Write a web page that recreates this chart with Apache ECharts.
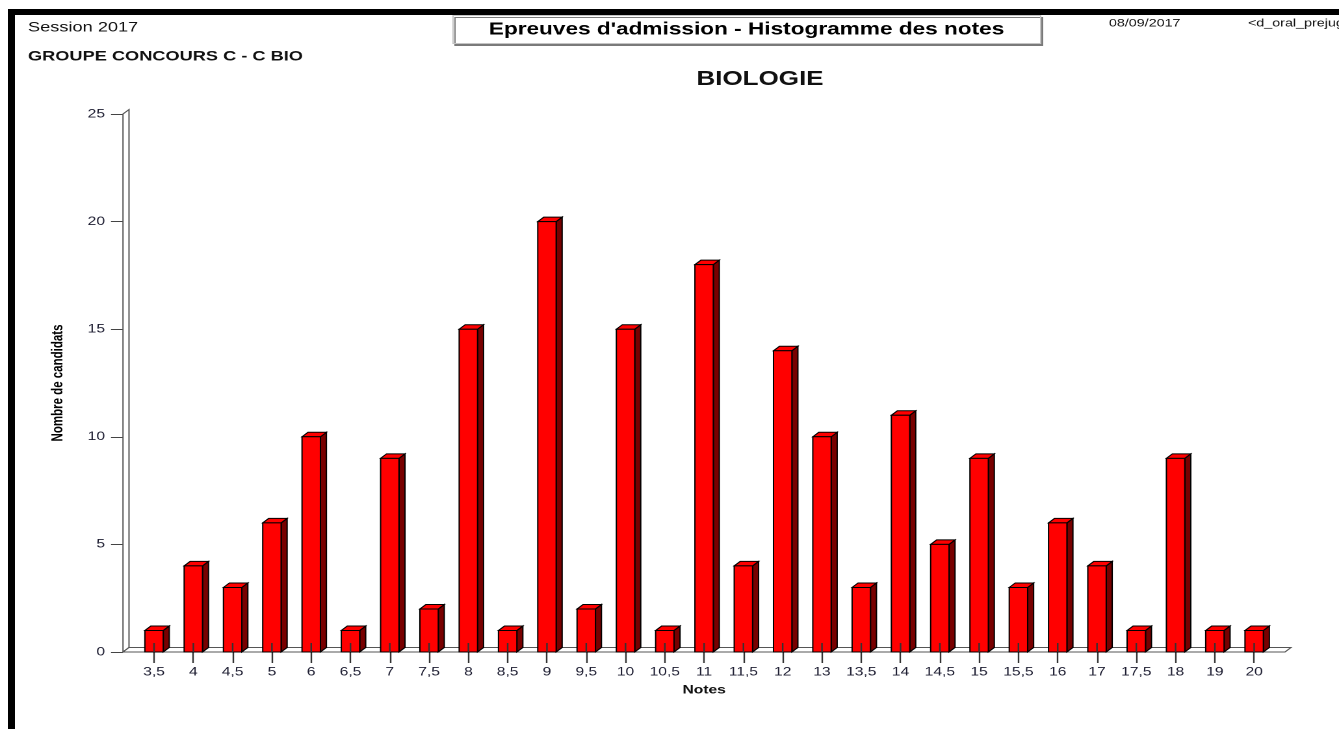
<!DOCTYPE html>
<html>
<head>
<meta charset="utf-8">
<title>Epreuves d'admission - Histogramme des notes</title>
<script src="https://cdn.jsdelivr.net/npm/echarts@6/dist/echarts.min.js"></script>
<style>
  html, body { margin: 0; padding: 0; background: #fff; overflow: hidden; }
  #frame {
    position: absolute; left: 8px; top: 9px; width: 1331px; height: 720px;
    border-left: 7px solid #000; border-top: 6px solid #000; box-sizing: border-box;
  }
  /* the report is laid out on a narrower page and stretched horizontally */
  #chart {
    position: absolute; left: 0; top: 0; width: 1030px; height: 729px;
    transform: scaleX(1.3); transform-origin: 0 0;
  }
</style>
</head>
<body>
<div id="frame"></div>
<div id="chart"></div>
<script>
// Notes (grades) and number of candidates per grade
const notes = ['3,5','4','4,5','5','6','6,5','7','7,5','8','8,5','9','9,5','10','10,5','11',
               '11,5','12','13','13,5','14','14,5','15','15,5','16','17','17,5','18','19','20'];
const candidats = [1,4,3,6,10,1,9,2,15,1,20,2,15,1,18,4,14,10,3,11,5,9,3,6,4,1,9,1,1];
const yTicks = [0, 5, 10, 15, 20, 25];

const Y_MIN = yTicks[0];
const Y_MAX = yTicks[yTicks.length - 1];
const Y_STEP = yTicks[1] - yTicks[0];

const SX = 1.3;            // horizontal stretch of the page
const DEPTH_X = 6 / SX;    // 3D depth offset
const DEPTH_Y = 4.5;
const BAR_W = 18.4 / SX;
const FONT = "'Liberation Sans', Arial, Helvetica, sans-serif";

const chart = echarts.init(document.getElementById('chart'), null, { renderer: 'canvas', devicePixelRatio: 2 });

// axis wall on the left and the floor along the x axis
function renderFrame(params, api) {
  const o = api.coord([0, Y_MIN]);
  const r = api.coord([1, Y_MIN]);
  const t = api.coord([0, Y_MAX]);
  const st = { fill: '#fff', stroke: '#555', lineWidth: 1 };
  return {
    type: 'group',
    children: [
      { type: 'polygon', shape: { points: [
          [o[0], o[1]], [o[0], t[1]], [o[0] + DEPTH_X, t[1] - DEPTH_Y], [o[0] + DEPTH_X, o[1] - DEPTH_Y]
        ] }, style: st },
      { type: 'polygon', shape: { points: [
          [o[0], o[1]], [r[0], r[1]], [r[0] + DEPTH_X, r[1] - DEPTH_Y], [o[0] + DEPTH_X, o[1] - DEPTH_Y]
        ] }, style: st }
    ]
  };
}

// one 3D bar: front face, right side, top, and the inner part of the tick
function renderBar(params, api) {
  const i = api.value(0);
  const v = api.value(1);
  const base = api.coord([i, 0]);
  const top = api.coord([i, v]);
  const cx = base[0], y0 = base[1], y1 = top[1];
  const l = cx - BAR_W / 2, rr = cx + BAR_W / 2;
  const edge = { stroke: '#000', lineWidth: 1 };
  return {
    type: 'group',
    children: [
      { type: 'polygon', shape: { points: [[rr, y1], [rr + DEPTH_X, y1 - DEPTH_Y], [rr + DEPTH_X, y0 - DEPTH_Y], [rr, y0]] },
        style: Object.assign({ fill: '#780000' }, edge) },
      { type: 'polygon', shape: { points: [[l, y1], [l + DEPTH_X, y1 - DEPTH_Y], [rr + DEPTH_X, y1 - DEPTH_Y], [rr, y1]] },
        style: Object.assign({ fill: '#ff0000' }, edge) },
      { type: 'rect', shape: { x: l, y: y1, width: BAR_W, height: y0 - y1 },
        style: Object.assign({ fill: '#ff0000' }, edge) },
      { type: 'line', shape: { x1: cx, y1: y0 - 9, x2: cx, y2: y0 },
        style: { stroke: '#333', lineWidth: 1.2 } }
    ]
  };
}

const option = {
  backgroundColor: 'transparent',
  animation: false,
  title: [
    { text: 'Session 2017', left: 21.5, top: 20.5, padding: 0,
      textStyle: { fontFamily: FONT, fontSize: 14, fontWeight: 'normal', color: '#111' } },
    { text: 'GROUPE CONCOURS C - C BIO', left: 21.5, top: 49.5, padding: 0,
      textStyle: { fontFamily: FONT, fontSize: 14, fontWeight: 'bold', color: '#111' } },
    { text: "Epreuves d'admission - Histogramme des notes", left: 348, top: 15,
      padding: [6, 28, 6, 28], backgroundColor: '#fff', borderColor: '#c4c4c4', borderWidth: 1,
      shadowColor: '#7a7a7a', shadowOffsetX: 1.5, shadowOffsetY: 2, shadowBlur: 0,
      textStyle: { fontFamily: FONT, fontSize: 17.4, fontWeight: 'bold', color: '#000' } },
    { text: '08/09/2017', left: 853, top: 18, padding: 0,
      textStyle: { fontFamily: FONT, fontSize: 11, fontWeight: 'normal', color: '#111' } },
    { text: '<d_oral_prejuges>', left: 960, top: 18, padding: 0,
      textStyle: { fontFamily: FONT, fontSize: 11, fontWeight: 'normal', color: '#111' } },
    { text: 'BIOLOGIE', left: 584.6, textAlign: 'center', top: 69.5, padding: 0,
      textStyle: { fontFamily: FONT, fontSize: 20, fontWeight: 'bold', color: '#111' } }
  ],
  grid: [
    { left: 123 / SX, top: 114, width: (1285 - 123) / SX, height: 538 },
    { left: 134.4 / SX, top: 114, width: 29 * 39.29 / SX, height: 538 }
  ],
  xAxis: [
    { gridIndex: 0, type: 'value', min: 0, max: 1, show: false },
    { gridIndex: 1, type: 'category', data: notes, boundaryGap: true,
      axisLine: { show: false },
      axisTick: { show: true, alignWithLabel: true, length: 11, lineStyle: { color: '#333', width: 1.2 } },
      axisLabel: { interval: 0, margin: 14, fontFamily: FONT, fontSize: 12, color: '#1e1e32' },
      name: 'Notes', nameLocation: 'middle', nameGap: 32,
      nameTextStyle: { fontFamily: FONT, fontSize: 12, fontWeight: 'bold', color: '#111' } }
  ],
  yAxis: [
    { gridIndex: 0, type: 'value', min: Y_MIN, max: Y_MAX, interval: Y_STEP,
      axisLine: { show: false },
      axisTick: { show: true, length: 12 / SX, lineStyle: { color: '#444', width: 1 } },
      axisLabel: { margin: 18 / SX, fontFamily: FONT, fontSize: 12, color: '#1e1e32' },
      splitLine: { show: false },
      name: 'Nombre de candidats', nameLocation: 'middle', nameRotate: 90, nameGap: 43.7,
      nameTextStyle: { fontFamily: FONT, fontSize: 11.5, fontWeight: 'bold', color: '#000' } },
    { gridIndex: 1, type: 'value', min: Y_MIN, max: Y_MAX, interval: Y_STEP, show: false }
  ],
  series: [
    { type: 'custom', xAxisIndex: 0, yAxisIndex: 0, z: 1, silent: true,
      data: [[0, Y_MIN]], renderItem: renderFrame },
    { type: 'custom', xAxisIndex: 1, yAxisIndex: 1, z: 2,
      data: candidats.map((v, i) => [i, v]),
      encode: { x: 0, y: 1 },
      renderItem: renderBar }
  ]
};

chart.setOption(option);
</script>
</body>
</html>
